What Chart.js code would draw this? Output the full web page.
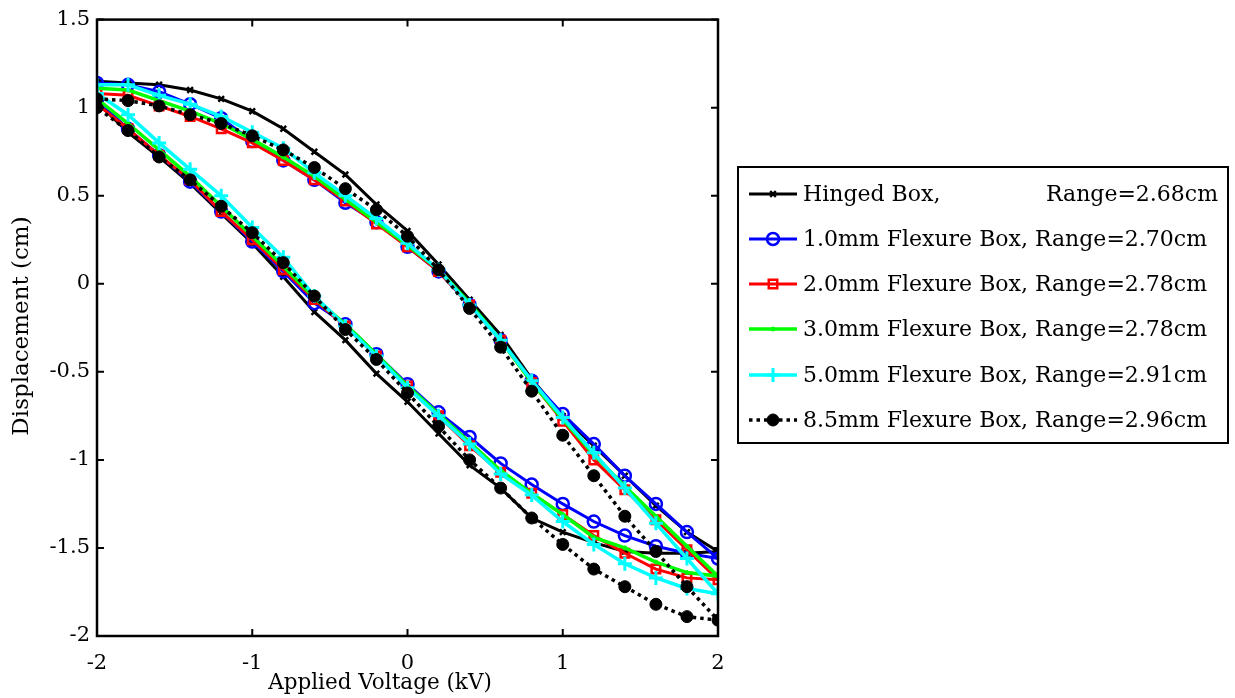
<!DOCTYPE html>
<html>
<head>
<meta charset="utf-8">
<script src="https://cdn.jsdelivr.net/npm/chart.js@4/dist/chart.umd.min.js"></script>
<style>
html,body{margin:0;padding:0;background:#fff;}
#wrap{width:1235px;height:698px;}
</style>
</head>
<body>
<div id="wrap"><canvas id="c" width="1235" height="698"></canvas></div>
<script>
// Voltage sweep: -2 -> 2 (upper branch), then 2 -> -2 (lower branch)
const voltage = [-2,-1.8,-1.6,-1.4,-1.2,-1,-0.8,-0.6,-0.4,-0.2,0,0.2,0.4,0.6,0.8,1,1.2,1.4,1.6,1.8,2,
                 1.8,1.6,1.4,1.2,1,0.8,0.6,0.4,0.2,0,-0.2,-0.4,-0.6,-0.8,-1,-1.2,-1.4,-1.6,-1.8,-2];

const hingedBox = [1.15,1.14,1.13,1.10,1.05,0.98,0.88,0.75,0.62,0.45,0.30,0.11,-0.09,-0.29,-0.54,-0.75,-0.92,-1.09,-1.26,-1.41,-1.52,
                   -1.53,-1.53,-1.52,-1.47,-1.41,-1.33,-1.16,-1.03,-0.85,-0.67,-0.51,-0.32,-0.16,0.04,0.23,0.40,0.57,0.72,0.86,1.03];
const flex10 = [1.14,1.13,1.09,1.02,0.94,0.81,0.70,0.59,0.46,0.35,0.21,0.07,-0.12,-0.32,-0.55,-0.74,-0.91,-1.09,-1.25,-1.41,-1.56,
                -1.53,-1.49,-1.43,-1.35,-1.25,-1.14,-1.02,-0.87,-0.73,-0.57,-0.40,-0.23,-0.11,0.07,0.24,0.41,0.58,0.73,0.88,1.04];
const flex20 = [1.08,1.07,1.01,0.95,0.88,0.80,0.70,0.59,0.47,0.34,0.21,0.07,-0.12,-0.32,-0.56,-0.78,-1.00,-1.17,-1.34,-1.51,-1.68,
                -1.67,-1.62,-1.53,-1.43,-1.31,-1.19,-1.07,-0.92,-0.75,-0.58,-0.41,-0.24,-0.09,0.08,0.25,0.41,0.59,0.73,0.88,1.02];
const flex30 = [1.11,1.10,1.04,0.98,0.91,0.82,0.72,0.61,0.48,0.35,0.22,0.08,-0.11,-0.32,-0.56,-0.77,-0.97,-1.15,-1.32,-1.49,-1.66,
                -1.64,-1.58,-1.50,-1.44,-1.31,-1.19,-1.06,-0.90,-0.74,-0.58,-0.40,-0.23,-0.08,0.10,0.27,0.44,0.61,0.76,0.91,1.05];
const flex50 = [1.13,1.13,1.07,1.02,0.95,0.86,0.77,0.63,0.50,0.37,0.23,0.08,-0.12,-0.32,-0.55,-0.76,-0.96,-1.16,-1.36,-1.56,-1.76,
                -1.73,-1.67,-1.59,-1.48,-1.35,-1.20,-1.08,-0.91,-0.75,-0.59,-0.41,-0.24,-0.07,0.15,0.32,0.50,0.65,0.80,0.96,1.08];
const flex85 = [1.05,1.04,1.01,0.96,0.91,0.84,0.76,0.66,0.54,0.42,0.27,0.08,-0.14,-0.36,-0.61,-0.86,-1.09,-1.32,-1.52,-1.72,-1.91,
                -1.89,-1.82,-1.72,-1.62,-1.48,-1.33,-1.16,-1.00,-0.81,-0.62,-0.43,-0.26,-0.07,0.12,0.29,0.44,0.59,0.72,0.87,1.00];

const seriesNames = ['Hinged Box,','1.0mm Flexure Box, Range=2.70cm','2.0mm Flexure Box, Range=2.78cm',
                     '3.0mm Flexure Box, Range=2.78cm','5.0mm Flexure Box, Range=2.91cm','8.5mm Flexure Box, Range=2.96cm'];
const hingedRange = 'Range=2.68cm';
const yTicks = [-2,-1.5,-1,-0.5,0,0.5,1,1.5];
const xTicks = [-2,-1,0,1,2];
const xTitle = 'Applied Voltage (kV)';
const yTitle = 'Displacement (cm)';

const FONT = '"DejaVu Serif", "Liberation Serif", serif';
const pts = s => voltage.map((v,i)=>({x:v,y:s[i]}));

const datasets = [
  {label:seriesNames[0], data:pts(hingedBox), borderColor:'#000', backgroundColor:'#000', borderWidth:3,
   pointStyle:'crossRot', pointRadius:4, pointBorderWidth:2.5, order:5},
  {label:seriesNames[1], data:pts(flex10), borderColor:'#0000ff', backgroundColor:'rgba(0,0,0,0)', borderWidth:3,
   pointStyle:'circle', pointRadius:6, pointBorderWidth:2.5, order:4},
  {label:seriesNames[2], data:pts(flex20), borderColor:'#ff0000', backgroundColor:'rgba(0,0,0,0)', borderWidth:3,
   pointStyle:'rect', pointRadius:6, pointBorderWidth:2.5, order:3},
  {label:seriesNames[3], data:pts(flex30), borderColor:'#00ff00', backgroundColor:'#00ff00', borderWidth:3.5,
   pointStyle:'circle', pointRadius:2, pointBorderWidth:1, order:2},
  {label:seriesNames[4], data:pts(flex50), borderColor:'#00ffff', backgroundColor:'#00ffff', borderWidth:3.5,
   pointStyle:'cross', pointRadius:7, pointBorderWidth:3, order:1},
  {label:seriesNames[5], data:pts(flex85), borderColor:'#000', backgroundColor:'#000', borderWidth:3.5,
   borderDash:[3.5,4], pointStyle:'circle', pointRadius:6, pointBorderWidth:1, order:0}
];
datasets.forEach(d=>{d.showLine=true; d.fill=false; d.tension=0;
  d.pointBackgroundColor = d.backgroundColor; d.pointBorderColor = d.borderColor; d.pointHoverRadius=d.pointRadius;});

const boxPlugin = {
  id:'boxPlugin',
  beforeDraw(chart){
    const ctx=chart.ctx; ctx.save(); ctx.fillStyle='#fff'; ctx.fillRect(0,0,chart.width,chart.height); ctx.restore();
  },
  afterDraw(chart){
    const ctx=chart.ctx, a=chart.chartArea, xs=chart.scales.x, ys=chart.scales.y;
    ctx.save();
    ctx.strokeStyle='#000'; ctx.lineWidth=2.5;
    ctx.strokeRect(a.left,a.top,a.right-a.left,a.bottom-a.top);
    ctx.lineWidth=2;
    const tl=7;
    ctx.beginPath();
    xTicks.forEach(v=>{const px=xs.getPixelForValue(v);
      ctx.moveTo(px,a.bottom); ctx.lineTo(px,a.bottom-tl); ctx.moveTo(px,a.top); ctx.lineTo(px,a.top+tl);});
    yTicks.forEach(v=>{const py=ys.getPixelForValue(v);
      ctx.moveTo(a.left,py); ctx.lineTo(a.left+tl,py); ctx.moveTo(a.right,py); ctx.lineTo(a.right-tl,py);});
    ctx.stroke();
    // axis titles
    ctx.fillStyle='#000'; ctx.font='21.5px '+FONT; ctx.textAlign='center'; ctx.textBaseline='middle';
    ctx.fillText(xTitle, 380, 683);
    ctx.save(); ctx.translate(22, 326); ctx.rotate(-Math.PI/2); ctx.font='23px '+FONT; ctx.fillText(yTitle,0,0); ctx.restore();
    // legend
    const L={x:738,y:167,w:490,h:276};
    ctx.fillStyle='#fff'; ctx.fillRect(L.x,L.y,L.w,L.h);
    ctx.strokeStyle='#000'; ctx.lineWidth=2; ctx.strokeRect(L.x,L.y,L.w,L.h);
    const rowY=[194,239,284,329,375,420];
    // fit legend font so the longest entry spans the same width as in the original
    let fs=20; ctx.font=fs+'px '+FONT;
    const w=ctx.measureText(seriesNames[1]).width;
    fs = Math.min(24, fs*404/w); ctx.font=fs.toFixed(2)+'px '+FONT;
    ctx.textBaseline='middle';
    chart.data.datasets.forEach((d,i)=>{
      const y=rowY[i];
      ctx.save();
      ctx.strokeStyle=d.borderColor; ctx.lineWidth=d.borderWidth;
      ctx.setLineDash(d.borderDash||[]);
      ctx.beginPath(); ctx.moveTo(749,y); ctx.lineTo(797,y); ctx.stroke();
      ctx.setLineDash([]);
      ctx.fillStyle=d.pointBackgroundColor; ctx.strokeStyle=d.pointBorderColor; ctx.lineWidth=d.pointBorderWidth;
      Chart.helpers.drawPoint(ctx,{pointStyle:d.pointStyle,radius:d.pointRadius,borderWidth:d.pointBorderWidth,rotation:0},773,y);
      ctx.restore();
      ctx.fillStyle='#000'; ctx.textAlign='left';
      ctx.fillText(d.label, 803, y+1);
      if(i===0){ ctx.textAlign='right'; ctx.fillText(hingedRange, 1218, y+1); }
    });
    ctx.restore();
  }
};

new Chart(document.getElementById('c'), {
  type:'scatter',
  data:{datasets},
  plugins:[boxPlugin],
  options:{
    responsive:false, animation:false, devicePixelRatio:1,
    layout:{padding:{left:0,top:15,right:517,bottom:0}},
    plugins:{legend:{display:false}, tooltip:{enabled:false}},
    scales:{
      x:{type:'linear', min:-2, max:2,
         grid:{display:false, drawTicks:false}, border:{display:false},
         afterBuildTicks(s){ s.ticks = xTicks.map(v=>({value:v})); },
         afterFit(s){ s.height = 62; },
         ticks:{padding:15, color:'#000', font:{family:FONT,size:21}, maxRotation:0, autoSkip:false,
                callback:v=>String(v)}},
      y:{type:'linear', min:-2, max:1.5,
         grid:{display:false, drawTicks:false}, border:{display:false},
         afterBuildTicks(s){ s.ticks = yTicks.map(v=>({value:v})); },
         afterFit(s){ s.width = 97; },
         ticks:{padding:7, color:'#000', font:{family:FONT,size:21}, autoSkip:false,
                callback:v=>String(v)}}
    }
  }
});
</script>
</body>
</html>
